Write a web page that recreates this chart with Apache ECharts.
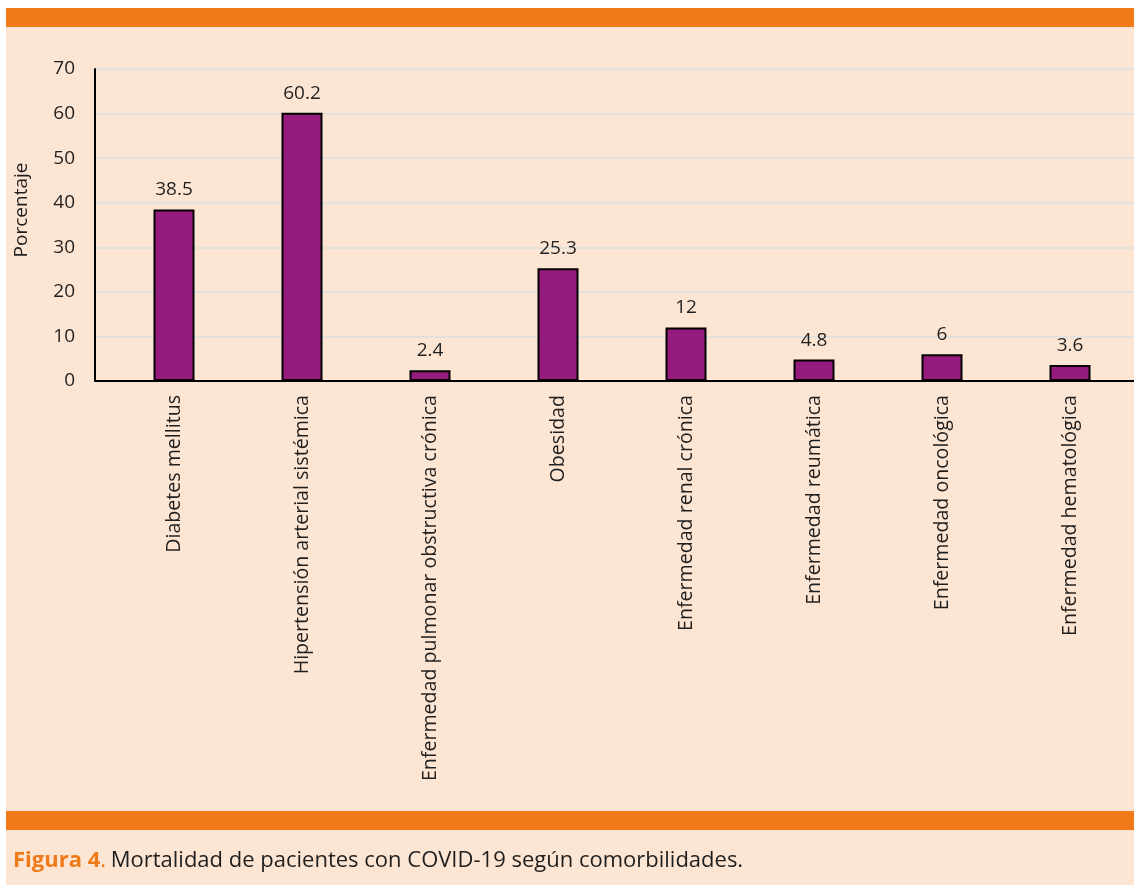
<!DOCTYPE html>
<html>
<head>
<meta charset="utf-8">
<script src="https://cdn.jsdelivr.net/npm/echarts@6/dist/echarts.min.js"></script>
<style>
  html, body { margin: 0; padding: 0; background: #ffffff; }
  #chart { width: 1134px; height: 885px; }
</style>
</head>
<body>
<div id="chart"></div>
<script>
// comorbilidades
const categories = [
  'Diabetes mellitus',
  'Hipertensión arterial sistémica',
  'Enfermedad pulmonar obstructiva crónica',
  'Obesidad',
  'Enfermedad renal crónica',
  'Enfermedad reumática',
  'Enfermedad oncológica',
  'Enfermedad hematológica'
];
const mortalidad = [38.5, 60.2, 2.4, 25.3, 12, 4.8, 6, 3.6];
const yTicks = [0, 10, 20, 30, 40, 50, 60, 70];

const fontFam = '"Open Sans", Lato, sans-serif';
const peach = '#fde5d3';
const orange = '#ef7a17';

var chart = echarts.init(document.getElementById('chart'));
chart.setOption({
  backgroundColor: '#ffffff',
  textStyle: { fontFamily: fontFam },
  graphic: [
    { type: 'rect', z: -10, shape: { x: 6, y: 8, width: 1128, height: 877 }, style: { fill: peach } },
    { type: 'rect', z: -9, shape: { x: 6, y: 8, width: 1128, height: 19 }, style: { fill: orange } },
    { type: 'rect', z: -9, shape: { x: 6, y: 811, width: 1128, height: 19 }, style: { fill: orange } }
  ],
  title: {
    left: 8,
    top: 845,
    text: '{a|Figura 4}{b|.} {c|Mortalidad de pacientes con COVID-19 según comorbilidades.}',
    textStyle: {
      fontWeight: 'normal',
      rich: {
        a: { color: orange, fontWeight: 'bold', fontSize: 22, fontFamily: fontFam },
        b: { color: orange, fontWeight: 'normal', fontSize: 22, fontFamily: fontFam },
        c: { color: '#1f1f1f', fontWeight: 'normal', fontSize: 22, fontFamily: fontFam }
      }
    }
  },
  grid: [
    { left: 95, right: 0, top: 69, height: 312 },
    { left: 110, width: 1024, top: 69, height: 312 }
  ],
  xAxis: [
    {
      gridIndex: 0, type: 'value', min: 0, max: 1,
      axisLine: { show: true, lineStyle: { color: '#000', width: 2 } },
      axisTick: { show: false }, axisLabel: { show: false }, splitLine: { show: false }
    },
    {
      gridIndex: 1, type: 'category', data: categories,
      axisLine: { show: false }, axisTick: { show: false },
      axisLabel: { rotate: 90, margin: 14, fontSize: 19.6, color: '#1f1f1f', interval: 0 }
    }
  ],
  yAxis: [
    {
      gridIndex: 0, type: 'value', min: yTicks[0], max: yTicks[yTicks.length - 1], interval: 10,
      name: 'Porcentaje', nameLocation: 'middle', nameGap: 64,
      nameTextStyle: { fontSize: 19, color: '#1f1f1f', padding: [0, 0, 0, 30] },
      axisLine: { show: true, lineStyle: { color: '#000', width: 2 } },
      axisTick: { show: false },
      axisLabel: { fontSize: 19, color: '#1f1f1f', margin: 20 },
      splitLine: { show: true, lineStyle: { color: '#e4e1dd', width: 2 } }
    },
    {
      gridIndex: 1, type: 'value', min: 0, max: 70, show: false
    }
  ],
  series: [{
    type: 'bar',
    xAxisIndex: 1,
    yAxisIndex: 1,
    data: mortalidad,
    barWidth: 41,
    itemStyle: { color: '#951b7d', borderColor: '#000', borderWidth: 2 },
    label: { show: true, position: 'top', distance: 10, fontSize: 19, color: '#1f1f1f' }
  }]
});
</script>
</body>
</html>
